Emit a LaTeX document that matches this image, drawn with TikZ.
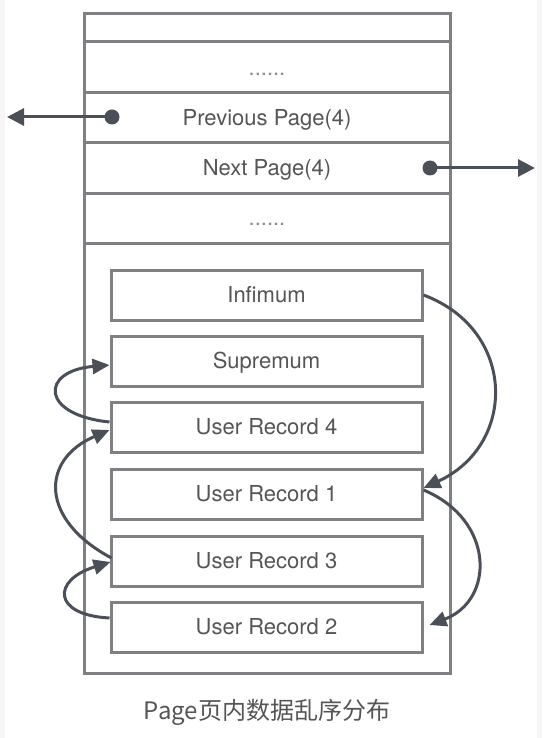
\documentclass[tikz,border=0pt]{standalone}
\usepackage{fontspec}
\setmainfont{TeX Gyre Heros}
\newfontfamily\cjk{Noto Sans CJK SC}
\usetikzlibrary{arrows.meta,calc}
\definecolor{boxgray}{HTML}{7E8084}
\definecolor{arrowgray}{HTML}{4B5058}
\definecolor{textgray}{HTML}{555555}
\definecolor{dotgray}{HTML}{8A8A8A}
\begin{document}
\begin{tikzpicture}[x=1pt,y=-1pt,
  every node/.style={font=\fontsize{22}{26}\selectfont, text=textgray},
  row/.style={draw=boxgray, line width=3pt, minimum width=366pt, inner sep=0pt, text height=15.5pt, text depth=0pt},
  rec/.style={draw=boxgray, line width=3pt, minimum width=311pt, minimum height=50pt, inner sep=0pt, text height=15.5pt, text depth=0pt},
  link/.style={draw=arrowgray, line width=3pt, -{Triangle[length=17pt,width=15pt]}},
  ptrdot/.style={circle, fill=arrowgray, minimum size=15pt, inner sep=0pt},
]
\useasboundingbox (0,0) rectangle (542,738);
\fill[gray!7] (0,0) rectangle (542,738);
\fill[white] (5,0) rectangle (537,738);

% outer page box
\node[draw=boxgray, line width=3pt, minimum width=366pt, minimum height=659pt, inner sep=0pt] (page) at (267,343.5) {};

% header rows
\node[row, minimum height=28pt] (r1) at (267,28) {};
\node[row, minimum height=51pt, text=dotgray] (r2) at (267,67.5) {......};
\node[row, minimum height=50pt] (r3) at (267,118) {Previous Page(4)};
\node[row, minimum height=50pt] (r4) at (267,168) {Next Page(4)};
\node[row, minimum height=50pt, text=dotgray] (r5) at (267,218) {......};

% records
\node[rec] (inf) at (266.5,295) {Infimum};
\node[rec] (sup) at (266.5,361) {Supremum};
\node[rec] (ur4) at (266.5,427) {User Record 4};
\node[rec] (ur1) at (266.5,494) {User Record 1};
\node[rec] (ur3) at (266.5,561) {User Record 3};
\node[rec] (ur2) at (266.5,627) {User Record 2};

% page pointers
\node[ptrdot] (pdot) at (112,117) {};
\coordinate (pend) at (7,117);
\draw[link, -{Triangle[length=17pt,width=17pt]}] (pdot.center) -- (pend);
\node[ptrdot] (ndot) at (430,168) {};
\coordinate (nend) at (535,168);
\draw[link, -{Triangle[length=17pt,width=17pt]}] (ndot.center) -- (nend);

% record chain
\draw[link] (inf.east) .. controls (517,330) and (517,445) .. ($(ur1.east)+(0,-6)$);
\draw[link] ($(ur1.east)+(0,-4)$) .. controls (495,520) and (495,600) .. ($(ur2.east)+(6,-2)$);
\draw[link] ($(ur4.west)+(0,-5)$) .. controls (40,415) and (40,371) .. ($(sup.west)+(0,4)$);
\draw[link] ($(ur3.west)+(2,-3)$) .. controls (40,520) and (40,460) .. ($(ur4.west)+(0,3)$);
\draw[link] ($(ur2.west)+(0,-9)$) .. controls (52,615) and (52,580) .. ($(ur3.west)+(1,1)$);

% caption
\node[font=\cjk\fontsize{24}{28}\selectfont] (cap) at (267,712) {Page页内数据乱序分布};
\end{tikzpicture}
\end{document}
